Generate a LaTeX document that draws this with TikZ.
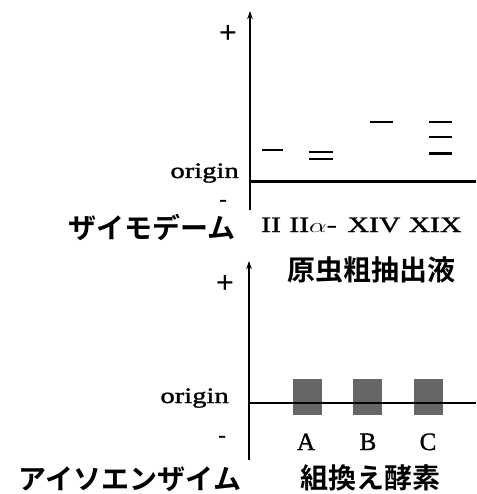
\documentclass[tikz,border=0pt]{standalone}
\usepackage{fontspec}
\usepackage{graphicx}
\setmainfont{Liberation Serif}
\newfontfamily\lat{Liberation Serif}[FakeBold=1.2]
\newfontfamily\jp{Noto Sans CJK JP}[BoldFont={Noto Sans CJK JP Bold}]
\usetikzlibrary{arrows.meta}
\begin{document}
\begin{tikzpicture}[x=1pt,y=-1pt,
  axis/.style={line width=1.8pt,-{Stealth[length=8pt,width=5.5pt]}},
  originline/.style={line width=2.1pt},
  band/.style={line width=2.3pt},
  jplabel/.style={inner sep=0pt,font=\jp\bfseries\fontsize{28}{30}\selectfont},
  latin/.style={inner sep=0pt,font=\lat\fontsize{22}{24}\selectfont},
  letter/.style={inner sep=0pt,font=\lat\fontsize{25}{27}\selectfont},
  sign/.style={inner sep=0pt,font=\bfseries\fontsize{32}{34}\selectfont},
  smudge/.style={fill=black!60,draw=none}]
\useasboundingbox (0,0) rectangle (476,494);
% ---------- top panel ----------
\coordinate (t0) at (250,210);
\coordinate (t1) at (250,11);
\coordinate (o0) at (250,181.5);
\coordinate (o1) at (476,181.5);
\draw[axis] (t0) -- (t1);
\draw[originline] (o0) -- (o1);
\node[sign] (tplus) at (228,34) {+};
\node[latin,anchor=base east] (torigin) at (239,178) {\scalebox{1.3}[1]{origin}};
\node[latin] (tminus) at (223,203) {-};
% bands
\draw[band] (262,150) -- (283,150);
\draw[band] (309,152) -- (333,152);
\draw[band] (309,159) -- (333,159);
\draw[band] (370,122) -- (393,122);
\draw[band] (429,122) -- (452,122);
\draw[band] (429,137) -- (452,137);
\draw[band] (429,153.5) -- (452,153.5);
% lane labels
\node[latin,anchor=base] (lII) at (271,232) {\scalebox{1.35}[1]{II}};
\node[latin,anchor=base] (lIIa) at (313,232) {\scalebox{1.35}[1]{II$\alpha$-}};
\node[latin,anchor=base] (lXIV) at (374,232) {\scalebox{1.35}[1]{XIV}};
\node[latin,anchor=base] (lXIX) at (435,232) {\scalebox{1.35}[1]{XIX}};
\node[jplabel] (zymo) at (152,227) {ザイモデーム};
\node[jplabel] (crude) at (371,270) {原虫粗抽出液};
% ---------- bottom panel ----------
\coordinate (b0) at (249,460);
\coordinate (b1) at (249,261);
\coordinate (p0) at (249,403);
\coordinate (p1) at (476,403);
\node[smudge,minimum width=29pt,minimum height=36pt] (sA) at (307.5,396.5) {};
\node[smudge,minimum width=29pt,minimum height=36pt] (sB) at (367.5,396.5) {};
\node[smudge,minimum width=29pt,minimum height=36pt] (sC) at (428,396.5) {};
\draw[axis] (b0) -- (b1);
\draw[originline] (p0) -- (p1);
\node[sign] (bplus) at (225,284) {+};
\node[latin,anchor=base east] (borigin) at (229,403) {\scalebox{1.3}[1]{origin}};
\node[latin] (bminus) at (222,439) {-};
\node[letter,anchor=base] (lA) at (306,450) {A};
\node[letter,anchor=base] (lB) at (368,450) {B};
\node[letter,anchor=base] (lC) at (428,450) {C};
\node[jplabel] (iso) at (130,479) {アイソエンザイム};
\node[jplabel] (recomb) at (370,478) {組換え酵素};
\end{tikzpicture}
\end{document}
